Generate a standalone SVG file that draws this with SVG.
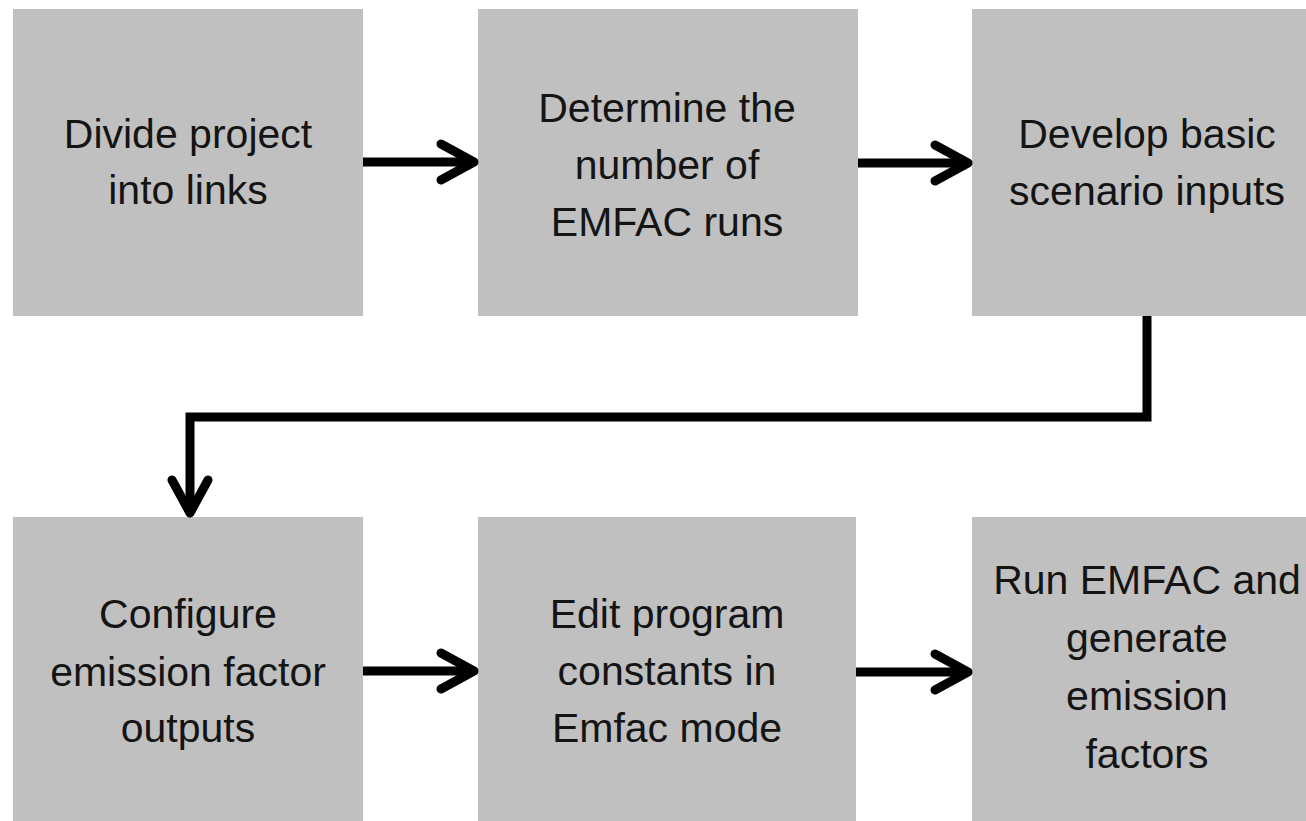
<svg xmlns="http://www.w3.org/2000/svg" width="1306" height="821" viewBox="0 0 1306 821">
  <style>
    .box { fill: #c0c0c0; }
    .lbl { font-family: "Liberation Sans", Arial, sans-serif; font-size: 41px; fill: #141414; text-anchor: middle; }
    .conn { fill: none; stroke: #000; stroke-width: 9; stroke-linejoin: miter; }
  </style>
  <defs>
    <marker id="arr" markerUnits="userSpaceOnUse" markerWidth="60" markerHeight="60" viewBox="-50 -30 60 60" refX="0" refY="0" orient="auto" overflow="visible">
      <path d="M-33,-18 L0,0 L-33,18" fill="none" stroke="#000" stroke-width="9" stroke-linecap="round" stroke-linejoin="round"/>
    </marker>
  </defs>
  <rect width="1306" height="821" fill="#fff"/>

  <g id="node1">
    <rect class="box" x="13" y="9" width="350" height="307"/>
    <text class="lbl" x="188" y="148">Divide project</text>
    <text class="lbl" x="188" y="204">into links</text>
  </g>
  <g id="node2">
    <rect class="box" x="478" y="9" width="380" height="307"/>
    <text class="lbl" x="667" y="122">Determine the</text>
    <text class="lbl" x="667" y="179">number of</text>
    <text class="lbl" x="667" y="236">EMFAC runs</text>
  </g>
  <g id="node3">
    <rect class="box" x="972" y="9" width="350" height="307"/>
    <text class="lbl" x="1147" y="148">Develop basic</text>
    <text class="lbl" x="1147" y="205">scenario inputs</text>
  </g>
  <g id="node4">
    <rect class="box" x="13" y="517" width="350" height="320"/>
    <text class="lbl" x="188" y="628">Configure</text>
    <text class="lbl" x="188" y="686">emission factor</text>
    <text class="lbl" x="188" y="742">outputs</text>
  </g>
  <g id="node5">
    <rect class="box" x="478" y="517" width="378" height="320"/>
    <text class="lbl" x="667" y="628">Edit program</text>
    <text class="lbl" x="667" y="685">constants in</text>
    <text class="lbl" x="667" y="742">Emfac mode</text>
  </g>
  <g id="node6">
    <rect class="box" x="972" y="517" width="350" height="320"/>
    <text class="lbl" x="1147" y="594">Run EMFAC and</text>
    <text class="lbl" x="1147" y="652">generate</text>
    <text class="lbl" x="1147" y="710">emission</text>
    <text class="lbl" x="1147" y="768">factors</text>
  </g>

  <g id="connectors">
    <path class="conn" d="M363,162 L474,162" marker-end="url(#arr)"/>
    <path class="conn" d="M858,163 L968,163" marker-end="url(#arr)"/>
    <path class="conn" d="M1147,316 L1147,417 L190,417 L190,513" marker-end="url(#arr)"/>
    <path class="conn" d="M363,671 L474,671" marker-end="url(#arr)"/>
    <path class="conn" d="M856,672 L968,672" marker-end="url(#arr)"/>
  </g>
</svg>
